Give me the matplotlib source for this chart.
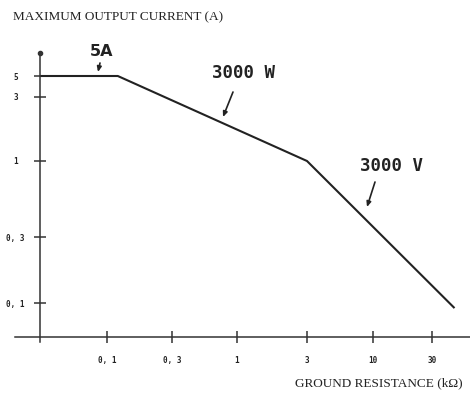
import numpy as np
import matplotlib
matplotlib.use('Agg')
import matplotlib.pyplot as plt
from matplotlib.ticker import FixedLocator, NullLocator, FixedFormatter

# ---- data ----
resistance_kohm = [0.03, 0.12, 3.0, 45.0]
current_a = [5.0, 5.0, 1.0, 0.093]

x_tick_values = [0.1, 0.3, 1, 3, 10, 30]
x_tick_labels = ["0, 1", "0, 3", "1", "3", "10", "30"]
y_tick_values = [0.1, 0.3, 1, 3, 5]
y_tick_labels = ["0, 1", "0, 3", "1", "3", "5"]

# hand-drawn axis: positions of the drawn ticks (layout, in pixels)
x_anchor_vals = [0.03, 0.1, 0.3, 1, 3, 10, 30]
x_anchor_pix = [40, 107, 172, 237, 307, 373, 432]
y_anchor_vals = [0.1, 0.3, 1, 3, 5]
y_anchor_pix = [-303, -237, -161, -97, -76]


def make_scale(vals, pix):
    lv = np.log10(np.asarray(vals, float))
    p = np.asarray(pix, float)
    s0 = (p[1] - p[0]) / (lv[1] - lv[0])
    s1 = (p[-1] - p[-2]) / (lv[-1] - lv[-2])

    def fwd(v):
        v = np.asarray(v, float)
        l = np.log10(np.where(v > 0, v, 1e-30))
        out = np.interp(l, lv, p)
        out = np.where(l < lv[0], p[0] + (l - lv[0]) * s0, out)
        out = np.where(l > lv[-1], p[-1] + (l - lv[-1]) * s1, out)
        return out

    def inv(q):
        q = np.asarray(q, float)
        l = np.interp(q, p, lv)
        l = np.where(q < p[0], lv[0] + (q - p[0]) / s0, l)
        l = np.where(q > p[-1], lv[-1] + (q - p[-1]) / s1, l)
        return 10 ** l

    return fwd, inv


W, H = 470, 394
fig = plt.figure(figsize=(W / 100, H / 100), dpi=100)
ax = fig.add_axes([40 / W, (H - 337) / H, (W - 40) / W, (337 - 53) / H])

xf, xi = make_scale(x_anchor_vals, x_anchor_pix)
yf, yi = make_scale(y_anchor_vals, y_anchor_pix)
ax.set_xscale('function', functions=(xf, xi))
ax.set_yscale('function', functions=(yf, yi))
ax.set_xlim(float(xi(40)), float(xi(470)))
ax.set_ylim(float(yi(-337)), float(yi(-53)))

line_col = '#222222'
ax.plot(resistance_kohm, current_a, color=line_col, lw=1.5, solid_joinstyle='miter')

for s in ax.spines.values():
    s.set_visible(False)

axis_col = '#333333'
ax.plot([-25 / 430, 1], [0, 0], transform=ax.transAxes, clip_on=False,
        color=axis_col, lw=1.1)
ax.plot([0, 0], [-5 / 284, 1], transform=ax.transAxes, clip_on=False,
        color=axis_col, lw=1.1)
ax.plot([0], [1], 'o', ms=3, color=axis_col, transform=ax.transAxes, clip_on=False)

ax.xaxis.set_major_locator(FixedLocator(x_tick_values))
ax.xaxis.set_major_formatter(FixedFormatter(x_tick_labels))
ax.xaxis.set_minor_locator(NullLocator())
ax.yaxis.set_major_locator(FixedLocator(y_tick_values))
ax.yaxis.set_major_formatter(FixedFormatter(y_tick_labels))
ax.yaxis.set_minor_locator(NullLocator())

ax.tick_params(axis='both', direction='inout', length=9, width=1.1, color=axis_col,
               labelsize=5.5, labelcolor='#222222')
ax.tick_params(axis='x', pad=9)
ax.tick_params(axis='y', pad=13)
for lab in ax.get_xticklabels() + ax.get_yticklabels():
    lab.set_fontfamily('DejaVu Sans Mono')
    lab.set_fontweight('bold')
for lab in ax.get_yticklabels():
    lab.set_horizontalalignment('center')

# titles
fig.text(13 / W, (H - 17) / H, "MAXIMUM OUTPUT CURRENT (A)", family='Liberation Serif',
         fontsize=9.5, ha='left', va='center', color='#222222')
fig.text(463 / W, (H - 383) / H, "GROUND RESISTANCE (kΩ)", family='Liberation Serif',
         fontsize=9.5, ha='right', va='center', color='#222222')

# annotations (figure pixel coords, origin bottom-left)
def ann(text, txy, a0, a1, family, size):
    fig.text(txy[0] / W, (H - txy[1]) / H, text, family=family, fontsize=size,
             fontweight='bold', ha='center', va='center', color='#222222')
    ax.annotate('', xy=(a1[0], H - a1[1]), xytext=(a0[0], H - a0[1]),
                xycoords='figure pixels', textcoords='figure pixels',
                arrowprops=dict(arrowstyle='-|>,head_length=0.3,head_width=0.13',
                                color='#222222', lw=1.2, shrinkA=0, shrinkB=0))

ann("5A", (102, 51), (100, 63), (98, 72), 'DejaVu Sans', 11.5)
ann("3000 W", (243, 73), (233, 92), (223, 117), 'DejaVu Sans Mono', 12.5)
ann("3000 V", (392, 166), (375, 182), (367, 207), 'DejaVu Sans Mono', 12.5)

fig.savefig('out.png', dpi=100)
